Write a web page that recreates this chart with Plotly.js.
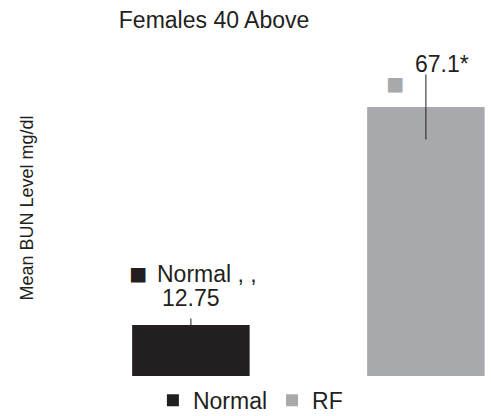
<!DOCTYPE html>
<html>
<head>
<meta charset="utf-8">
<script src="https://cdn.plot.ly/plotly-3.0.1.min.js"></script>
<style>html,body{margin:0;padding:0;background:#fff;}#chart{width:491px;height:416px;}</style>
</head>
<body>
<div id="chart"></div>
<script>
const categories = ["Normal", "RF"];
const values = [12.75, 67.1];
const errors = [1.6, 8.1];
const labelTexts = ["12.75", "67.1*"];
const seriesLabels = ["Normal , ,", ""];
const colors = ["#231f20", "#a7a9ac"];
const positions = [0, 1];

const font = "Liberation Sans, Arial, sans-serif";
const ink = "#231f20";

const traces = categories.map((c, i) => ({
  type: "bar",
  name: c,
  x: [positions[i]],
  y: [values[i]],
  width: 0.5,
  marker: {color: colors[i]},
  error_y: {type: "data", array: [errors[i]], visible: true, color: ink, thickness: 1, width: 0},
  hoverinfo: "none"
}));

function ann(i, text, xshift, yshift, size, color) {
  return {
    x: positions[i], y: values[i], xref: "x", yref: "y",
    text: text, showarrow: false, xanchor: "center", yanchor: "middle",
    xshift: xshift, yshift: yshift,
    font: {family: font, size: size, color: color}
  };
}

const annotations = [
  ann(0, "■", -53, 51, 30, colors[0]),
  ann(0, seriesLabels[0], 16, 51, 23, ink),
  ann(0, labelTexts[0], 0, 27, 23, ink),
  ann(1, labelTexts[1], 16, 43, 23, ink),
  ann(1, "■", -31, 23, 30, colors[1])
];

const layout = {
  width: 491, height: 416,
  margin: {l: 60, r: 0, t: 40, b: 40},
  paper_bgcolor: "#ffffff",
  plot_bgcolor: "#ffffff",
  font: {family: font, color: ink, size: 22},
  title: {
    text: "Females 40 Above",
    x: 0.436, xref: "container", xanchor: "center",
    y: 0.952, yref: "container", yanchor: "middle",
    font: {family: font, size: 23, color: ink}
  },
  xaxis: {
    range: [-0.557, 1.277],
    showgrid: false, zeroline: false, showline: false, showticklabels: false, ticks: ""
  },
  yaxis: {
    range: [0, 83.8],
    showgrid: false, zeroline: false, showline: false, showticklabels: false, ticks: "",
    title: {text: "Mean BUN Level mg/dl", font: {family: font, size: 18, color: ink}, standoff: 20}
  },
  showlegend: true,
  legend: {
    orientation: "h",
    x: 0.51, xref: "container", xanchor: "center",
    y: 0.038, yref: "container", yanchor: "middle",
    font: {family: font, size: 23, color: ink},
    itemwidth: 30
  },
  annotations: annotations
};

Plotly.newPlot("chart", traces, layout, {displayModeBar: false, staticPlot: true});
</script>
</body>
</html>
